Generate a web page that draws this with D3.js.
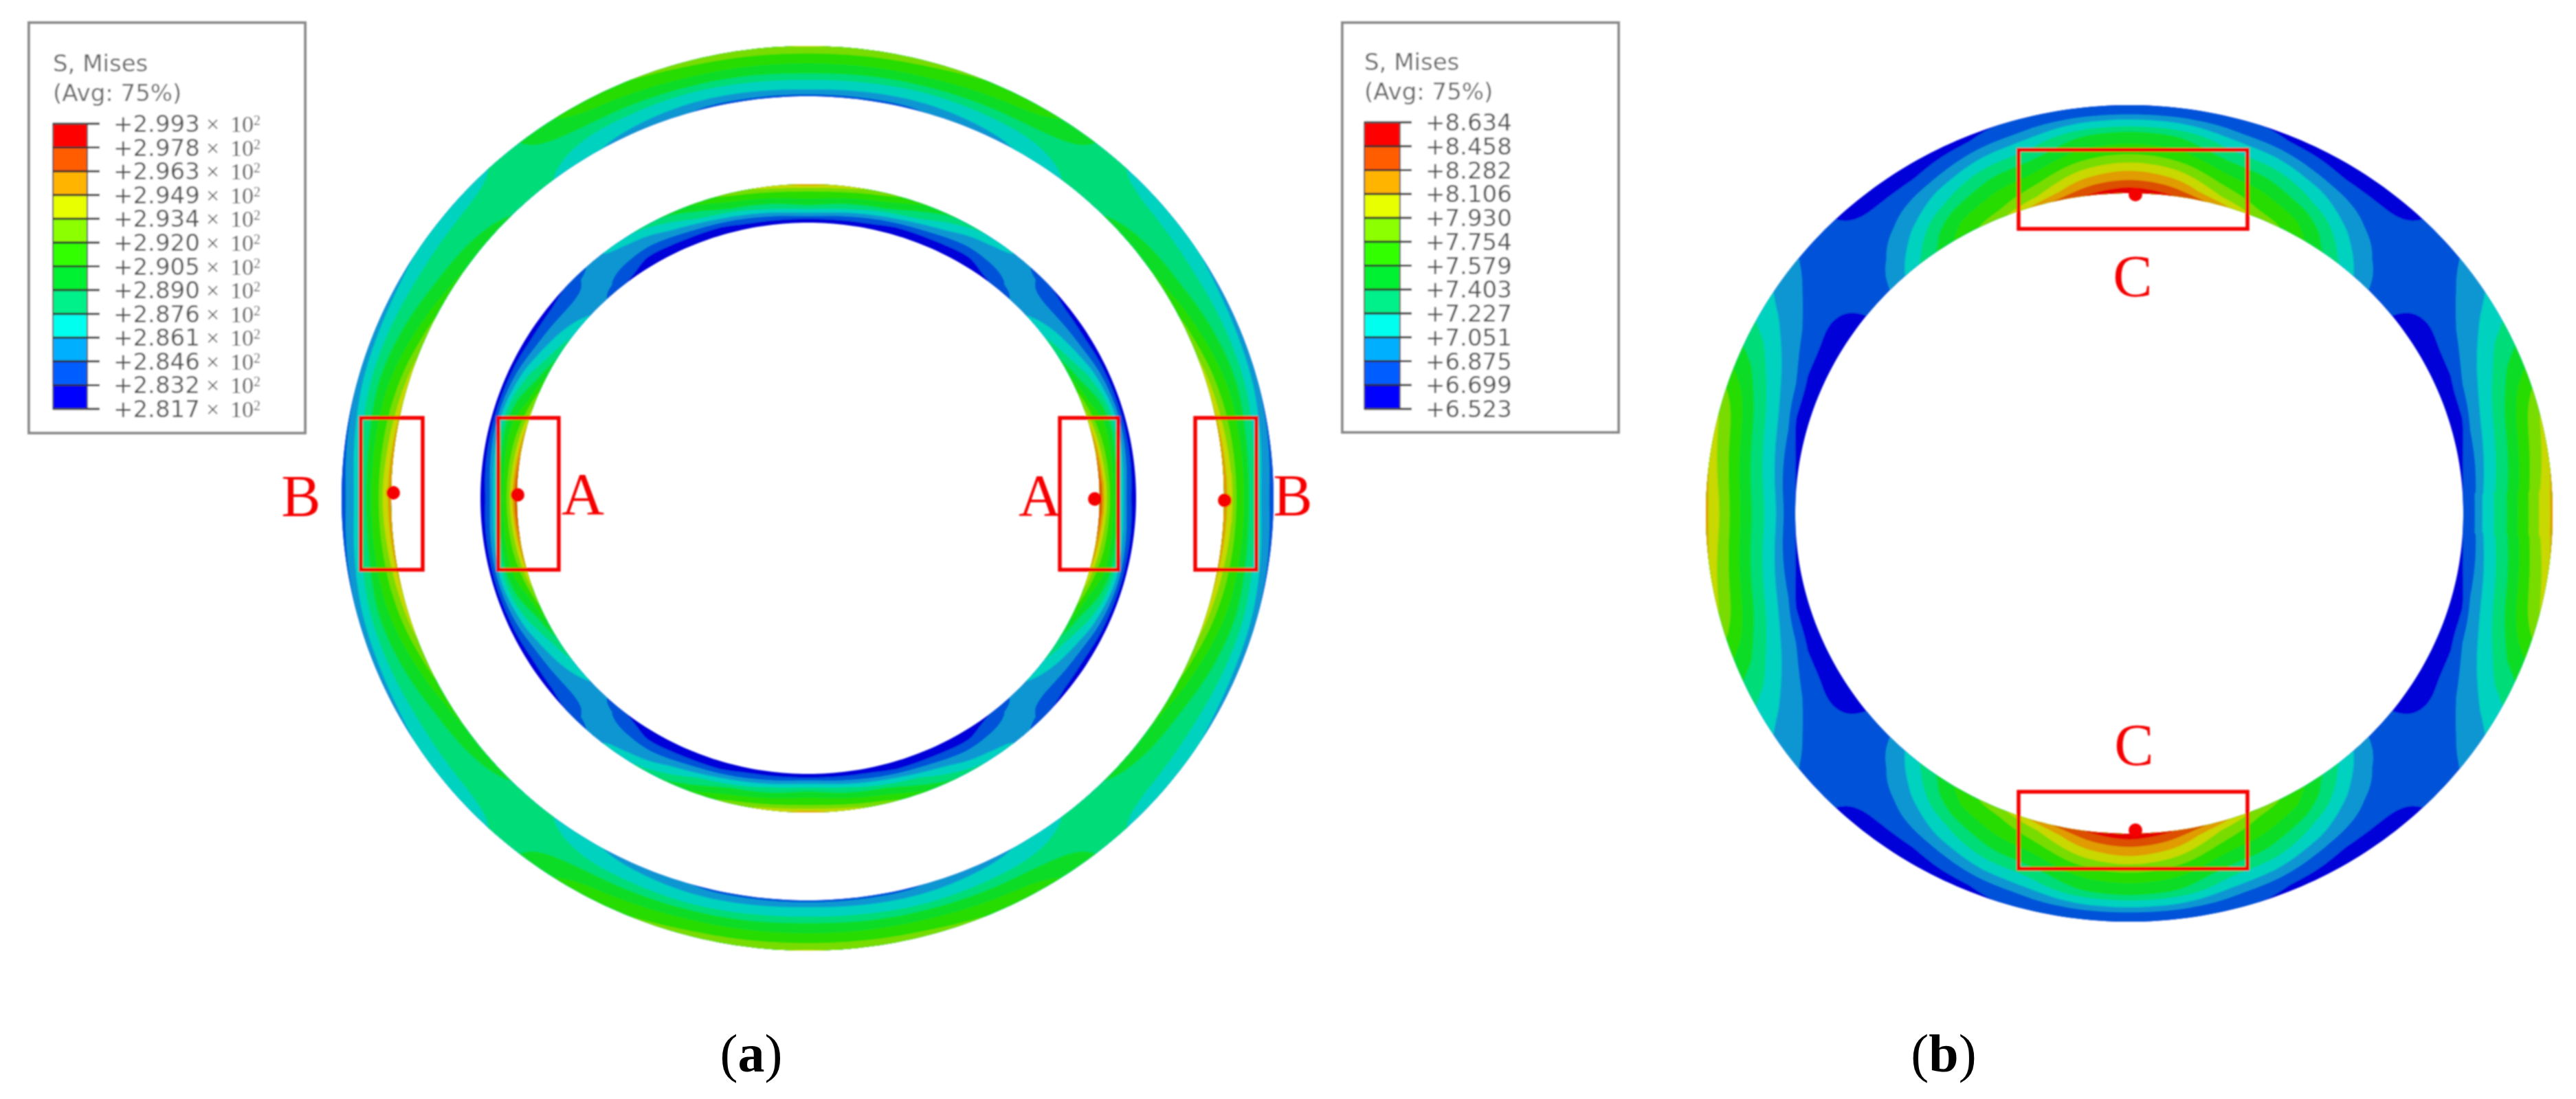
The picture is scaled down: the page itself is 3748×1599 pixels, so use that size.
<!DOCTYPE html>
<html><head><meta charset="utf-8">
<script src="https://cdn.jsdelivr.net/npm/d3@7"></script>
<style>html,body{margin:0;padding:0;background:#fff}svg{display:block}</style>
</head><body>
<script>
// ---- legend values -------------------------------------------------------
const legendValuesA = ["+2.993","+2.978","+2.963","+2.949","+2.934","+2.920","+2.905","+2.890","+2.876","+2.861","+2.846","+2.832","+2.817"];
const legendValuesB = ["+8.634","+8.458","+8.282","+8.106","+7.930","+7.754","+7.579","+7.403","+7.227","+7.051","+6.875","+6.699","+6.523"];
// low -> high
const legendColors = ["#0000ff","#005dff","#00b0ff","#00ffee","#00f08a","#00f030","#30ff00","#8cff00","#e8ff00","#ffb400","#ff5d00","#ff0000"];
const meshColors   = ["#0000d8","#0052d8","#0a96d2","#00d2c0","#00dc78","#0adc28","#28dc00","#78dc00","#c8d800","#e09c00","#dc5000","#e40000"];

// ---- stress field ---------------------------------------------------------
// Each profile is a list of [wall position (0 inner .. 1 outer), legend level (0..12)]
// taken at the ellipse angle with the same index in the *Phi array (first quadrant).
const outerRingPhi = [0,15,30,45,52,60,75,90];
const outerRingProfiles = [
 [[0,10.2],[.07,9],[.18,8],[.25,7],[.4,6],[.5,5],[.59,4],[.73,3],[.89,2],[1,1.5]],
 [[0,8.9],[.08,8],[.2,7],[.4,6],[.6,5],[.75,4],[.9,3],[1,2]],
 [[0,6.5],[.08,6],[.35,5],[.7,4],[.97,3],[1,2.9]],
 [[0,5],[.8,4],[1,3.6]],
 [[0,4.05],[1,5.05]],
 [[0,3],[.35,4],[.55,5],[.8,6],[1,6.6]],
 [[0,1.9],[.05,2],[.18,3],[.38,4],[.5,5],[.68,6],[.9,7],[1,7.4]],
 [[0,1.7],[.04,2],[.13,3],[.32,4],[.44,5],[.65,6],[.85,7],[1,8.2]]
];
const innerRingPhi = [0,15,30,40,45,50,55,60,75,90];
const innerRingProfiles = [
 [[0,11.2],[.02,11],[.07,10],[.13,9],[.2,8],[.28,7],[.38,6],[.47,5],[.55,4],[.64,3],[.72,2],[.82,1],[1,.6]],
 [[0,9.2],[.1,8],[.2,7],[.45,6],[.6,5],[.68,4],[.78,3],[.85,2],[.92,1],[1,.7]],
 [[0,5],[.2,4],[.45,3],[.65,2],[.85,1],[1,.7]],
 [[0,3.3],[.1,3],[.55,2],[.9,1],[1,.85]],
 [[0,2.4],[.65,2.1],[.85,2],[1,1.1]],
 [[0,1],[.2,2],[.9,2.8],[1,2.95]],
 [[0,.7],[.25,1],[.45,2],[.85,3],[1,3.6]],
 [[0,.55],[.28,1],[.5,2],[.75,3],[.95,4],[1,4.5]],
 [[0,.55],[.2,1],[.3,2],[.4,3],[.52,4],[.6,5],[.78,6],[.95,7],[1,7.3]],
 [[0,.5],[.1,1],[.16,2],[.24,3],[.34,4],[.42,5],[.6,6],[.8,7],[.9,8],[.95,9],[1,9.6]]
];
const plainRingPhi = [0,15,22,30,35,38,45,48,52,60,68,75,82,90];
const plainRingProfiles = [
 [[0,1.1],[.12,2],[.2,3],[.33,4],[.47,5],[.6,6],[.72,7],[.83,8],[.97,9],[1,9.8]],
 [[0,.6],[.15,1],[.2,2],[.33,3],[.47,4],[.6,5],[.73,6],[.86,7],[1,8]],
 [[0,.6],[.2,1],[.28,2],[.46,3],[.65,4],[.82,5],[1,5.6]],
 [[0,.6],[.28,1],[.5,2],[.81,3],[1,3.5]],
 [[0,.6],[.28,1],[.75,2],[1,2.6]],
 [[0,.95],[.5,1.3],[.95,2],[1,2.1]],
 [[0,2],[.5,1.3],[1,1.05]],
 [[0,3.1],[.28,2],[.82,1],[1,.8]],
 [[0,4.3],[.05,4],[.27,3],[.5,2],[.8,1],[1,.7]],
 [[0,6.5],[.15,6],[.3,5],[.42,4],[.58,3],[.7,2],[.83,1],[1,.6]],
 [[0,7.8],[.08,7],[.3,6],[.47,5],[.6,4],[.72,3],[.82,2],[.93,1],[1,.85]],
 [[0,9.7],[.04,9],[.1,8],[.22,7],[.35,6],[.5,5],[.62,4],[.75,3],[.85,2],[1,1.15]],
 [[0,11],[.1,10],[.2,9],[.3,8],[.4,7],[.53,6],[.68,5],[.75,4],[.83,3],[.89,2],[1,1.25]],
 [[0,12],[.08,11],[.16,10],[.27,9],[.36,8],[.45,7],[.57,6],[.71,5],[.76,4],[.84,3],[.89,2],[1,1.3]]
];

const W = 3748, H = 1599;
const svg = d3.select("body").append("svg").attr("width",W).attr("height",H).attr("viewBox",`0 0 ${W} ${H}`);
svg.append("rect").attr("width",W).attr("height",H).attr("fill","#fff");
const defs = svg.append("defs");
defs.append("filter").attr("id","soft").attr("x","-5%").attr("y","-5%").attr("width","110%").attr("height","110%")
    .append("feGaussianBlur").attr("stdDeviation",1.1);
const art = svg.append("g").attr("filter","url(#soft)");

// ---- rings ----------------------------------------------------------------
const nPhi = 367, nT = 61;
const phiScale = d3.scaleLinear([0.5,nPhi-0.5],[-3,363]);
const tScale = d3.scaleLinear([0.5,nT-0.5],[0,1]).clamp(true);
const geoPath = d3.geoPath();

function drawRing(g, geom, phis, profiles){
  const profileScales = profiles.map(p => d3.scaleLinear(p.map(d=>d[0]), p.map(d=>d[1])).clamp(true));
  const values = new Float64Array(nPhi*nT);
  for(let j=0;j<nT;j++){
    const t = j/(nT-1);
    const across = d3.scaleLinear(phis, profileScales.map(s=>s(t))).clamp(true);
    for(let i=0;i<nPhi;i++){
      let a = ((i-3)%360+360)%360;
      if(a>180) a = 360-a;
      if(a>90) a = 180-a;
      values[j*nPhi+i] = across(a);
    }
  }
  d3.blur2({data:values,width:nPhi,height:nT},1.5,0);
  const contours = d3.contours().size([nPhi,nT]).thresholds(d3.range(0,12))(values);
  const rx = d3.scaleLinear([0,1],[geom.rxIn,geom.rxOut]);
  const ry = d3.scaleLinear([0,1],[geom.ryIn,geom.ryOut]);
  const project = ([x,y])=>{
    const a = phiScale(x)*Math.PI/180, t = tScale(y);
    return [geom.cx+rx(t)*Math.cos(a), geom.cy-ry(t)*Math.sin(a)];
  };
  g.selectAll(null).data(contours).join("path")
    .attr("fill",(d,i)=>meshColors[i])
    .attr("d",d=>geoPath({type:"MultiPolygon",coordinates:d.coordinates.map(poly=>poly.map(ring=>ring.map(project)))}));
}
const ringsG = art.append("g");
drawRing(ringsG.append("g"),{cx:1175,cy:725,rxIn:606,ryIn:585,rxOut:678,ryOut:658},outerRingPhi,outerRingProfiles);
drawRing(ringsG.append("g"),{cx:1176,cy:725,rxIn:424,ryIn:401,rxOut:477,ryOut:457},innerRingPhi,innerRingProfiles);
drawRing(ringsG.append("g"),{cx:3098,cy:747,rxIn:486,ryIn:466,rxOut:616,ryOut:594},plainRingPhi,plainRingProfiles);

// ---- legends --------------------------------------------------------------
function drawLegend(g, o){
  g.append("rect").attr("x",o.box[0]).attr("y",o.box[1]).attr("width",o.box[2]-o.box[0]).attr("height",o.box[3]-o.box[1])
    .attr("fill","#fff").attr("stroke","#8c8c8c").attr("stroke-width",4);
  g.selectAll(null).data(["S, Mises","(Avg: 75%)"]).join("text")
    .attr("x",o.barX0).attr("y",(d,i)=>o.titleY[i]).text(d=>d)
    .attr("font-family","'DejaVu Sans'").attr("font-size",34).attr("fill","#666");
  const y = d3.scaleLinear([0,12],[o.barY1,o.barY0]);
  g.selectAll(null).data(legendColors).join("rect")
    .attr("x",o.barX0).attr("width",o.barX1-o.barX0).attr("y",(d,i)=>y(i+1)).attr("height",(d,i)=>y(i)-y(i+1)).attr("fill",d=>d);
  const levels = d3.range(0,13);
  g.selectAll(null).data(levels).join("line")
    .attr("x1",o.barX0).attr("x2",o.tickX).attr("y1",d=>y(d)).attr("y2",d=>y(d))
    .attr("stroke","#2a2a2a").attr("stroke-width",3);
  g.append("rect").attr("x",o.barX0).attr("y",o.barY0).attr("width",o.barX1-o.barX0).attr("height",o.barY1-o.barY0)
    .attr("fill","none").attr("stroke","#444").attr("stroke-width",2);
  const labels = g.selectAll(null).data(o.values).join("text")
    .attr("y",(d,i)=>y(12-i)+12).attr("font-family","'DejaVu Sans'").attr("font-size",34).attr("fill","#555");
  labels.append("tspan").attr("x",o.labelX).text(d=>d);
  if(!o.times) return;
  const mult = g.selectAll(null).data(o.values).join("text")
    .attr("y",(d,i)=>y(12-i)+12).attr("font-family","'Liberation Serif'").attr("font-size",34).attr("fill","#555");
  mult.append("tspan").attr("x",o.labelX+135).text("\u00d7");
  mult.append("tspan").attr("x",o.labelX+170).text("10");
  mult.append("tspan").attr("x",o.labelX+204).attr("dy",-10).attr("font-size",20).text("2");
}
drawLegend(art.append("g"),{box:[42,33,444,630],titleY:[104,147],barX0:77,barX1:127,barY0:180,barY1:595,tickX:145,labelX:165,values:legendValuesA,times:true});
drawLegend(art.append("g"),{box:[1953,33,2355,629],titleY:[102,145],barX0:1985,barX1:2037,barY0:178,barY1:595,tickX:2054,labelX:2074,values:legendValuesB,times:false});

// ---- red annotations --------------------------------------------------------
const redBoxes = [[525,608,615,829],[725,608,813,829],[1542,608,1627,829],[1739,608,1828,829],[2937,218,3270,333],[2937,1152,3270,1264]];
const redDots = [[572,717],[753,720],[1593,726],[1782,728],[3107,283],[3107,1208]];
const redLabels = [["B",438,751],["A",848,748],["A",1513,750],["B",1881,750],["C",3103,431],["C",3105,1113]];
const anno = art.append("g");
anno.selectAll(null).data(redBoxes).join("rect")
  .attr("x",d=>d[0]).attr("y",d=>d[1]).attr("width",d=>d[2]-d[0]).attr("height",d=>d[3]-d[1])
  .attr("fill","none").attr("stroke","#f50000").attr("stroke-width",5.5);
anno.selectAll(null).data(redDots).join("circle")
  .attr("cx",d=>d[0]).attr("cy",d=>d[1]).attr("r",10).attr("fill","#f50000");
anno.selectAll(null).data(redLabels).join("text")
  .attr("x",d=>d[1]).attr("y",d=>d[2]).attr("text-anchor","middle").text(d=>d[0])
  .attr("font-family","'Liberation Serif'").attr("font-size",86).attr("fill","#f50000");

// ---- captions ---------------------------------------------------------------
const captions = [["a",1093],["b",2828]];
const cap = svg.append("g").selectAll(null).data(captions).join("text")
  .attr("x",d=>d[1]).attr("y",1559).attr("text-anchor","middle")
  .attr("font-family","'Liberation Serif'").attr("font-size",78).attr("fill","#000");
cap.append("tspan").text("(");
cap.append("tspan").attr("font-weight","bold").text(d=>d[0]);
cap.append("tspan").text(")");
</script>
</body></html>
